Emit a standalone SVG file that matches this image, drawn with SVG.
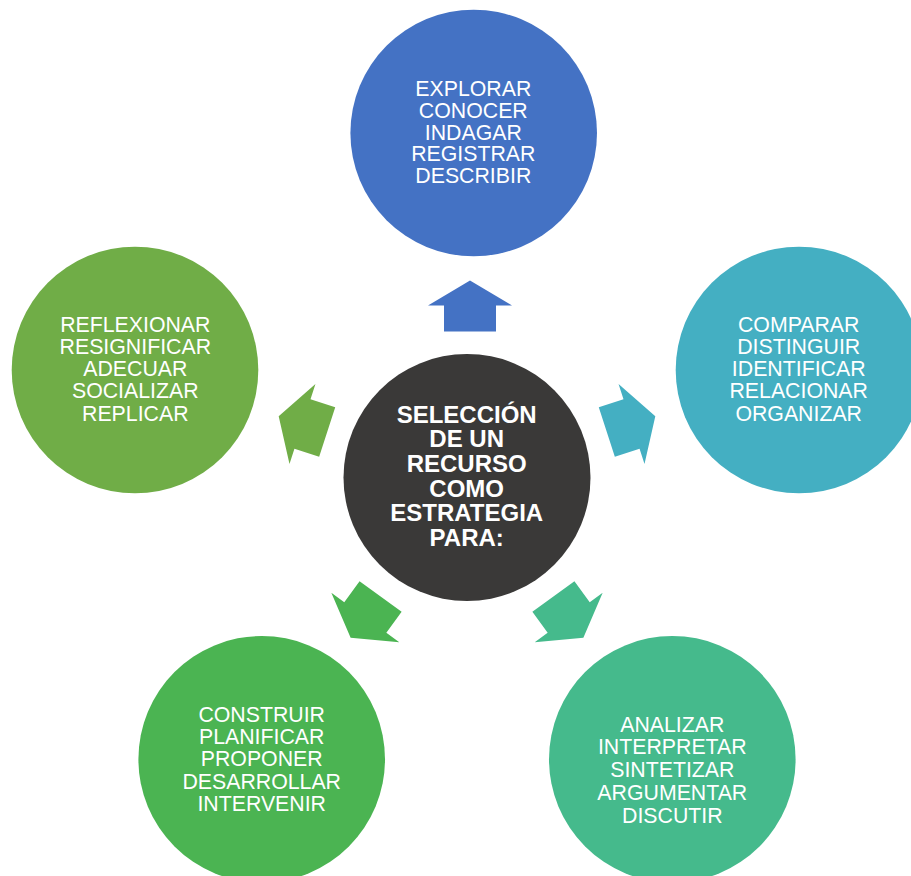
<svg xmlns="http://www.w3.org/2000/svg" width="911" height="876" viewBox="0 0 911 876">
<style>
.t{font-family:"Liberation Sans",Arial,sans-serif;font-size:21.3px;fill:#fff;text-anchor:middle}
.c{font-family:"Liberation Sans",Arial,sans-serif;font-size:24px;font-weight:bold;fill:#fff;text-anchor:middle}
</style>
<defs>
<polygon id="arr" points="0,-198 42,-173 26,-173 26,-147 -26,-147 -26,-173 -42,-173"/>
</defs>
<rect width="911" height="876" fill="#fff"/>
<g id="connectors">
<use href="#arr" transform="translate(470,478.5)" fill="#4472C4"/>
<use href="#arr" transform="translate(467,477.5) rotate(72)" fill="#44AFC2"/>
<use href="#arr" transform="translate(467,477.5) rotate(144)" fill="#45BA8C"/>
<use href="#arr" transform="translate(467,477.5) rotate(216)" fill="#4BB452"/>
<use href="#arr" transform="translate(467,477.5) rotate(288)" fill="#70AD47"/>
</g>
<g id="node-top">
<circle cx="473.7" cy="133" r="123.3" fill="#4472C4"/>
<text class="t" x="473.3" y="96"><tspan x="473.3">EXPLORAR</tspan><tspan x="473.3" dy="21.8">CONOCER</tspan><tspan x="473.3" dy="21.8">INDAGAR</tspan><tspan x="473.3" dy="21.8">REGISTRAR</tspan><tspan x="473.3" dy="21.8">DESCRIBIR</tspan></text>
</g>
<g id="node-right">
<circle cx="799" cy="370" r="123.3" fill="#44AFC2"/>
<text class="t" x="798.7" y="331.7"><tspan x="798.7">COMPARAR</tspan><tspan x="798.7" dy="22.25">DISTINGUIR</tspan><tspan x="798.7" dy="22.25">IDENTIFICAR</tspan><tspan x="798.7" dy="22.25">RELACIONAR</tspan><tspan x="798.7" dy="22.25">ORGANIZAR</tspan></text>
</g>
<g id="node-bottom-right">
<circle cx="672.3" cy="759.3" r="123.3" fill="#45BA8C"/>
<text class="t" x="672.3" y="731.7"><tspan x="672.3">ANALIZAR</tspan><tspan x="672.3" dy="22.75">INTERPRETAR</tspan><tspan x="672.3" dy="22.75">SINTETIZAR</tspan><tspan x="672.3" dy="22.75">ARGUMENTAR</tspan><tspan x="672.3" dy="22.75">DISCUTIR</tspan></text>
</g>
<g id="node-bottom-left">
<circle cx="261.7" cy="759.3" r="123.3" fill="#4BB452"/>
<text class="t" x="261.7" y="721.7"><tspan x="261.7">CONSTRUIR</tspan><tspan x="261.7" dy="22.3">PLANIFICAR</tspan><tspan x="261.7" dy="22.3">PROPONER</tspan><tspan x="261.7" dy="22.3">DESARROLLAR</tspan><tspan x="261.7" dy="22.3">INTERVENIR</tspan></text>
</g>
<g id="node-left">
<circle cx="135" cy="370" r="123.3" fill="#70AD47"/>
<text class="t" x="135.3" y="331.7"><tspan x="135.3">REFLEXIONAR</tspan><tspan x="135.3" dy="22.25">RESIGNIFICAR</tspan><tspan x="135.3" dy="22.25">ADECUAR</tspan><tspan x="135.3" dy="22.25">SOCIALIZAR</tspan><tspan x="135.3" dy="22.25">REPLICAR</tspan></text>
</g>
<g id="node-center">
<circle cx="467" cy="477.5" r="123.5" fill="#3A3938"/>
<text class="c" x="466.7" y="422.7"><tspan x="466.7">SELECCIÓN</tspan><tspan x="466.7" dy="24.6">DE UN</tspan><tspan x="466.7" dy="24.6">RECURSO</tspan><tspan x="466.7" dy="24.6">COMO</tspan><tspan x="466.7" dy="24.6">ESTRATEGIA</tspan><tspan x="466.7" dy="24.6">PARA:</tspan></text>
</g>
</svg>
